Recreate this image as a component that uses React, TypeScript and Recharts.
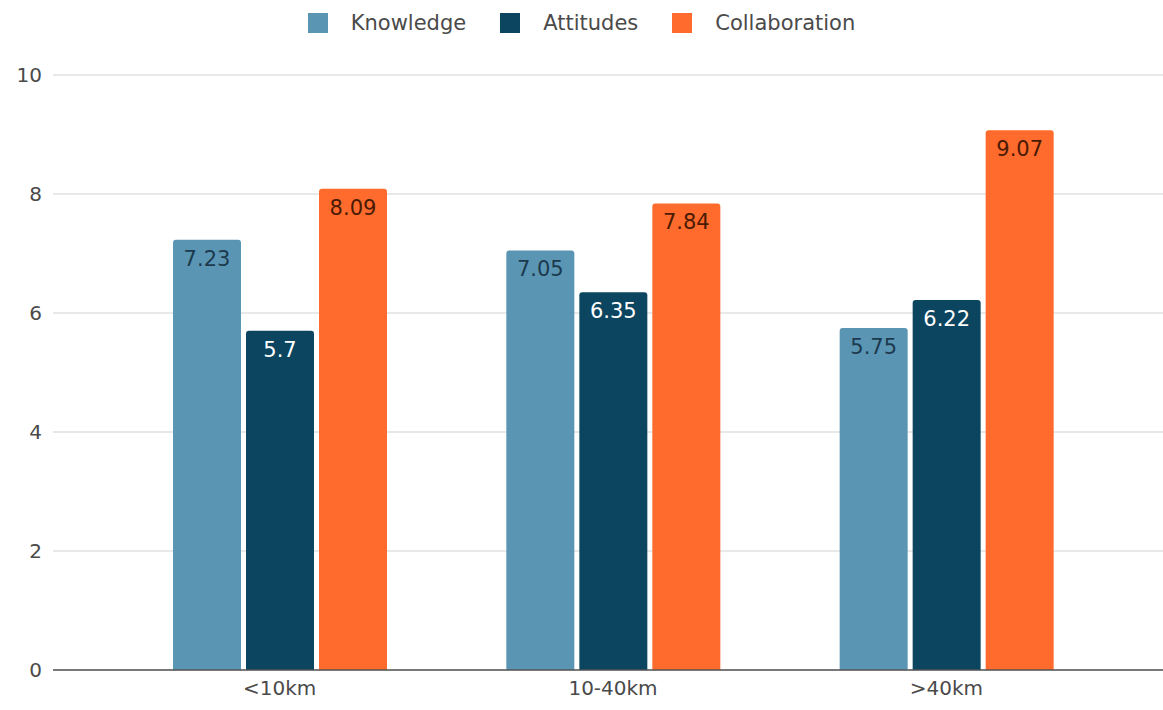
import React from 'react';
import {
  BarChart,
  Bar,
  XAxis,
  YAxis,
  CartesianGrid,
  LabelList,
} from 'recharts';

const categories = ['<10km', '10-40km', '>40km'];
const knowledge = [7.23, 7.05, 5.75];
const attitudes = [5.7, 6.35, 6.22];
const collaboration = [8.09, 7.84, 9.07];
const yTicks = [0, 2, 4, 6, 8, 10];

const seriesNames = ['Knowledge', 'Attitudes', 'Collaboration'];
const seriesColors = ['#5b95b4', '#0c4560', '#ff6b2c'];
const labelColors = ['#1c3a4e', '#ffffff', '#4a1a05'];

const data = categories.map((name, i) => ({
  name,
  Knowledge: knowledge[i],
  Attitudes: attitudes[i],
  Collaboration: collaboration[i],
}));

const FONT = '"DejaVu Sans", Verdana, sans-serif';

// legend drawn as plain html so its spacing matches the sheet export
const ChartLegend = () => (
  <div
    style={{
      position: 'absolute',
      top: 11,
      left: 0,
      width: 1163,
      display: 'flex',
      justifyContent: 'center',
      alignItems: 'center',
      fontSize: 21,
      color: '#4a4a4a',
      fontFamily: FONT,
    }}
  >
    {seriesNames.map((name, i) => (
      <div key={name} style={{ display: 'flex', alignItems: 'center', marginRight: i < 2 ? 34 : 0 }}>
        <span style={{ width: 20, height: 20, background: seriesColors[i], marginRight: 23, display: 'inline-block' }} />
        <span style={{ lineHeight: '24px' }}>{name}</span>
      </div>
    ))}
  </div>
);

const App: React.FC = () => {
  return (
    <div style={{ position: 'relative', width: 1163, height: 710, background: '#fff', fontFamily: FONT }}>
      <style>{'body{margin:0;}'}</style>
      <ChartLegend />
      <BarChart
        width={1163}
        height={710}
        data={data}
        margin={{ top: 75, right: 0, left: 0, bottom: 0 }}
        barCategoryGap={60}
        barGap={5}
      >
        <CartesianGrid vertical={false} stroke="#e0e0e0" strokeWidth={1.5} />
        <XAxis
          dataKey="name"
          padding={{ left: 60, right: 50 }}
          tick={{ fontSize: 20, fill: '#4a4a4a', fontFamily: FONT }}
          tickLine={false}
          axisLine={{ stroke: '#555', strokeWidth: 1.5 }}
          tickMargin={5}
          height={40}
        />
        <YAxis
          domain={[0, 10]}
          ticks={yTicks}
          width={53}
          tick={{ fontSize: 20, fill: '#4a4a4a', fontFamily: FONT }}
          tickLine={false}
          axisLine={false}
          tickMargin={5}
        />
        {seriesNames.map((name, i) => (
          <Bar
            key={name}
            dataKey={name}
            fill={seriesColors[i]}
            barSize={68}
            radius={[3, 3, 0, 0]}
            isAnimationActive={false}
          >
            <LabelList
              dataKey={name}
              position="insideTop"
              offset={11}
              fill={labelColors[i]}
              fontSize={21}
              fontFamily={FONT}
            />
          </Bar>
        ))}
      </BarChart>
    </div>
  );
};

export default App;
